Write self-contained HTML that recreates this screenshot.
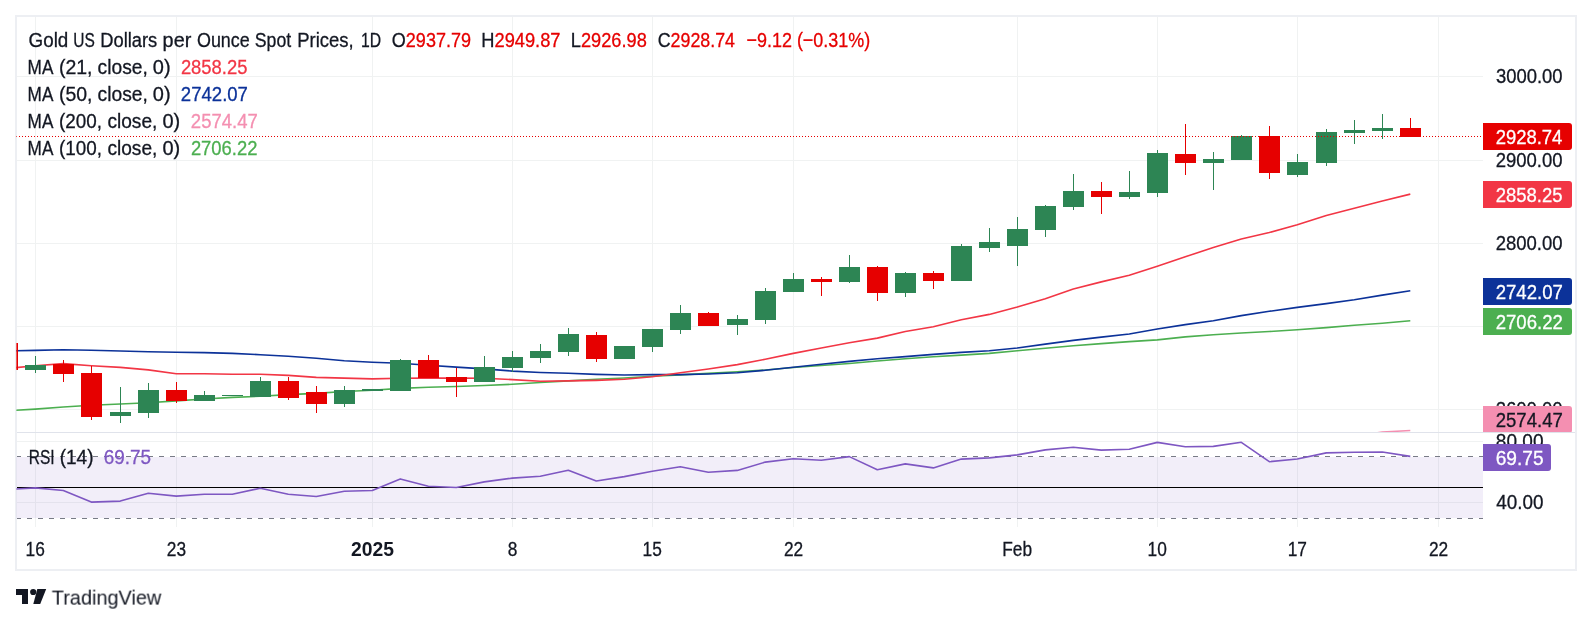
<!DOCTYPE html><html><head><meta charset="utf-8"><style>html,body{margin:0;padding:0;background:#fff}body{width:1592px;height:625px;overflow:hidden}svg{display:block;will-change:transform}text{font-family:"Liberation Sans", sans-serif}</style></head><body>
<svg width="1592" height="625" viewBox="0 0 1592 625">
<rect x="16" y="16" width="1560" height="554" fill="#fff" stroke="#edeff3" stroke-width="2"/>
<defs><clipPath id="mp"><rect x="16.4" y="17" width="1466.6" height="415"/></clipPath><clipPath id="rp"><rect x="16.4" y="433" width="1466.6" height="94"/></clipPath></defs>
<rect x="35" y="17" width="1" height="510" fill="#f0f2f2"/><rect x="176" y="17" width="1" height="510" fill="#f0f2f2"/><rect x="372" y="17" width="1" height="510" fill="#f0f2f2"/><rect x="512" y="17" width="1" height="510" fill="#f0f2f2"/><rect x="652" y="17" width="1" height="510" fill="#f0f2f2"/><rect x="793" y="17" width="1" height="510" fill="#f0f2f2"/><rect x="1017" y="17" width="1" height="510" fill="#f0f2f2"/><rect x="1157" y="17" width="1" height="510" fill="#f0f2f2"/><rect x="1297" y="17" width="1" height="510" fill="#f0f2f2"/><rect x="1438" y="17" width="1" height="510" fill="#f0f2f2"/><rect x="17" y="76" width="1466" height="1" fill="#f0f2f2"/><rect x="17" y="160" width="1466" height="1" fill="#f0f2f2"/><rect x="17" y="243" width="1466" height="1" fill="#f0f2f2"/><rect x="17" y="326" width="1466" height="1" fill="#f0f2f2"/><rect x="17" y="409" width="1466" height="1" fill="#f0f2f2"/><rect x="17" y="441" width="1466" height="1" fill="#f0f2f2"/><rect x="17" y="502" width="1466" height="1" fill="#f0f2f2"/>
<rect x="17" y="432" width="1558" height="1" fill="#e0e3eb"/>
<g clip-path="url(#rp)">
<rect x="16" y="457" width="1467" height="61" fill="rgba(126,87,194,0.1)"/>
<line x1="17" y1="456.5" x2="1483" y2="456.5" stroke="#787B86" stroke-width="1" stroke-dasharray="5 6" stroke-dashoffset="1"/>
<line x1="17" y1="518.5" x2="1483" y2="518.5" stroke="#787B86" stroke-width="1" stroke-dasharray="5 6" stroke-dashoffset="1"/>
<rect x="17" y="487" width="1466" height="1" fill="#000"/>
<polyline points="7.30,489.50 35.30,487.90 63.30,490.50 91.30,502.10 120.30,501.10 148.30,493.20 176.30,496.10 204.30,494.30 232.30,494.30 260.30,488.20 288.30,494.30 316.30,496.50 344.30,491.30 372.30,490.50 400.30,478.90 428.30,486.30 456.30,487.50 484.30,481.90 512.30,478.10 540.30,476.20 568.30,470.20 596.30,481.00 624.30,476.60 652.30,471.20 680.30,466.70 708.30,472.20 737.30,470.40 765.30,462.10 793.30,458.80 821.30,460.30 849.30,456.60 877.30,469.70 905.30,463.90 933.30,467.90 961.30,459.10 989.30,457.90 1017.30,454.90 1045.30,449.90 1073.30,447.30 1101.30,450.10 1129.30,449.30 1157.30,442.40 1185.30,446.70 1213.30,446.40 1241.30,442.30 1269.30,461.70 1297.30,459.00 1326.30,452.90 1354.30,452.30 1382.30,452.00 1410.30,456.40" fill="none" stroke="#7E57C2" stroke-width="1.6" stroke-linejoin="round" stroke-linecap="butt"/>
</g>
<g clip-path="url(#mp)">
<polyline points="1354.30,436.50 1382.30,432.00 1410.30,430.50" fill="none" stroke="#F48FB1" stroke-width="1.6" stroke-linejoin="round" stroke-linecap="butt"/>
<polyline points="7.30,410.80 35.30,409.10 63.30,407.00 91.30,405.30 120.30,404.00 148.30,402.80 176.30,400.90 204.30,399.00 232.30,397.40 260.30,396.30 288.30,394.60 316.30,393.40 344.30,391.50 372.30,390.30 400.30,388.40 428.30,387.30 456.30,386.50 484.30,385.50 512.30,384.30 540.30,382.50 568.30,380.90 596.30,379.20 624.30,378.00 652.30,376.20 680.30,374.90 708.30,373.40 737.30,371.80 765.30,370.00 793.30,367.50 821.30,365.50 849.30,363.50 877.30,361.00 905.30,358.80 933.30,356.80 961.30,355.10 989.30,353.40 1017.30,350.80 1045.30,348.30 1073.30,345.80 1101.30,343.60 1129.30,341.60 1157.30,339.90 1185.30,336.90 1213.30,334.80 1241.30,333.00 1269.30,331.50 1297.30,329.70 1326.30,327.60 1354.30,325.30 1382.30,323.30 1410.30,320.70" fill="none" stroke="#4CAF50" stroke-width="1.6" stroke-linejoin="round" stroke-linecap="butt"/>
<polyline points="7.30,350.90 35.30,350.40 63.30,349.80 91.30,350.30 120.30,351.00 148.30,351.70 176.30,352.30 204.30,352.60 232.30,353.40 260.30,354.70 288.30,356.30 316.30,358.20 344.30,360.70 372.30,362.20 400.30,363.30 428.30,365.20 456.30,367.10 484.30,368.90 512.30,371.10 540.30,372.50 568.30,373.30 596.30,374.40 624.30,375.00 652.30,374.60 680.30,374.60 708.30,374.00 737.30,372.80 765.30,370.30 793.30,367.30 821.30,364.20 849.30,361.40 877.30,358.80 905.30,356.60 933.30,354.40 961.30,352.40 989.30,350.80 1017.30,348.00 1045.30,344.10 1073.30,340.40 1101.30,337.10 1129.30,334.00 1157.30,329.00 1185.30,324.60 1213.30,320.70 1241.30,315.60 1269.30,311.30 1297.30,307.40 1326.30,303.60 1354.30,299.80 1382.30,295.10 1410.30,290.80" fill="none" stroke="#0C3299" stroke-width="1.6" stroke-linejoin="round" stroke-linecap="butt"/>
<polyline points="7.30,368.50 35.30,365.75 63.30,363.60 91.30,365.75 120.30,367.40 148.30,369.90 176.30,373.70 204.30,373.70 232.30,374.20 260.30,374.30 288.30,375.40 316.30,377.40 344.30,378.10 372.30,378.90 400.30,378.30 428.30,378.10 456.30,378.10 484.30,378.30 512.30,379.60 540.30,381.30 568.30,380.90 596.30,380.40 624.30,379.30 652.30,376.80 680.30,372.80 708.30,369.00 737.30,364.60 765.30,359.30 793.30,353.40 821.30,348.00 849.30,342.80 877.30,338.10 905.30,331.50 933.30,326.70 961.30,319.80 989.30,314.40 1017.30,307.10 1045.30,298.70 1073.30,289.00 1101.30,281.90 1129.30,275.20 1157.30,266.30 1185.30,256.80 1213.30,247.40 1241.30,239.00 1269.30,232.50 1297.30,224.80 1326.30,215.60 1354.30,208.30 1382.30,201.10 1410.30,194.10" fill="none" stroke="#F23645" stroke-width="1.6" stroke-linejoin="round" stroke-linecap="butt"/>
<rect x="7" y="343" width="1" height="27" fill="#e60000"/><rect x="-3" y="343" width="21" height="27" fill="#e60000"/><rect x="35" y="356" width="1" height="17" fill="#2d8554"/><rect x="25" y="365" width="21" height="5" fill="#2d8554"/><rect x="63" y="360" width="1" height="22" fill="#e60000"/><rect x="53" y="364" width="21" height="10" fill="#e60000"/><rect x="91" y="366" width="1" height="54" fill="#e60000"/><rect x="81" y="373" width="21" height="44" fill="#e60000"/><rect x="120" y="387" width="1" height="36" fill="#2d8554"/><rect x="110" y="412" width="21" height="4" fill="#2d8554"/><rect x="148" y="383" width="1" height="35" fill="#2d8554"/><rect x="138" y="390" width="21" height="23" fill="#2d8554"/><rect x="176" y="382" width="1" height="21" fill="#e60000"/><rect x="166" y="390" width="21" height="11" fill="#e60000"/><rect x="204" y="391" width="1" height="10" fill="#2d8554"/><rect x="194" y="395" width="21" height="6" fill="#2d8554"/><rect x="232" y="395" width="1" height="1" fill="#2d8554"/><rect x="222" y="395" width="21" height="1" fill="#2d8554"/><rect x="260" y="377" width="1" height="20" fill="#2d8554"/><rect x="250" y="381" width="21" height="16" fill="#2d8554"/><rect x="288" y="377" width="1" height="23" fill="#e60000"/><rect x="278" y="381" width="21" height="17" fill="#e60000"/><rect x="316" y="386" width="1" height="27" fill="#e60000"/><rect x="306" y="392" width="21" height="12" fill="#e60000"/><rect x="344" y="386" width="1" height="21" fill="#2d8554"/><rect x="334" y="390" width="21" height="14" fill="#2d8554"/><rect x="372" y="389" width="1" height="2" fill="#2d8554"/><rect x="362" y="389" width="21" height="2" fill="#2d8554"/><rect x="400" y="359" width="1" height="32" fill="#2d8554"/><rect x="390" y="360" width="21" height="31" fill="#2d8554"/><rect x="428" y="355" width="1" height="23" fill="#e60000"/><rect x="418" y="360" width="21" height="18" fill="#e60000"/><rect x="456" y="368" width="1" height="29" fill="#e60000"/><rect x="446" y="377" width="21" height="5" fill="#e60000"/><rect x="484" y="356" width="1" height="26" fill="#2d8554"/><rect x="474" y="367" width="21" height="15" fill="#2d8554"/><rect x="512" y="351" width="1" height="21" fill="#2d8554"/><rect x="502" y="357" width="21" height="11" fill="#2d8554"/><rect x="540" y="344" width="1" height="19" fill="#2d8554"/><rect x="530" y="351" width="21" height="7" fill="#2d8554"/><rect x="568" y="328" width="1" height="28" fill="#2d8554"/><rect x="558" y="334" width="21" height="18" fill="#2d8554"/><rect x="596" y="332" width="1" height="30" fill="#e60000"/><rect x="586" y="335" width="21" height="24" fill="#e60000"/><rect x="624" y="346" width="1" height="13" fill="#2d8554"/><rect x="614" y="346" width="21" height="13" fill="#2d8554"/><rect x="652" y="329" width="1" height="23" fill="#2d8554"/><rect x="642" y="329" width="21" height="18" fill="#2d8554"/><rect x="680" y="305" width="1" height="29" fill="#2d8554"/><rect x="670" y="313" width="21" height="17" fill="#2d8554"/><rect x="708" y="312" width="1" height="14" fill="#e60000"/><rect x="698" y="313" width="21" height="13" fill="#e60000"/><rect x="737" y="315" width="1" height="20" fill="#2d8554"/><rect x="727" y="319" width="21" height="6" fill="#2d8554"/><rect x="765" y="288" width="1" height="36" fill="#2d8554"/><rect x="755" y="291" width="21" height="29" fill="#2d8554"/><rect x="793" y="273" width="1" height="19" fill="#2d8554"/><rect x="783" y="279" width="21" height="13" fill="#2d8554"/><rect x="821" y="277" width="1" height="19" fill="#e60000"/><rect x="811" y="279" width="21" height="3" fill="#e60000"/><rect x="849" y="255" width="1" height="28" fill="#2d8554"/><rect x="839" y="267" width="21" height="15" fill="#2d8554"/><rect x="877" y="266" width="1" height="35" fill="#e60000"/><rect x="867" y="267" width="21" height="26" fill="#e60000"/><rect x="905" y="272" width="1" height="25" fill="#2d8554"/><rect x="895" y="273" width="21" height="20" fill="#2d8554"/><rect x="933" y="271" width="1" height="18" fill="#e60000"/><rect x="923" y="273" width="21" height="8" fill="#e60000"/><rect x="961" y="244" width="1" height="37" fill="#2d8554"/><rect x="951" y="246" width="21" height="35" fill="#2d8554"/><rect x="989" y="228" width="1" height="24" fill="#2d8554"/><rect x="979" y="242" width="21" height="6" fill="#2d8554"/><rect x="1017" y="217" width="1" height="49" fill="#2d8554"/><rect x="1007" y="229" width="21" height="17" fill="#2d8554"/><rect x="1045" y="205" width="1" height="32" fill="#2d8554"/><rect x="1035" y="206" width="21" height="24" fill="#2d8554"/><rect x="1073" y="174" width="1" height="36" fill="#2d8554"/><rect x="1063" y="191" width="21" height="16" fill="#2d8554"/><rect x="1101" y="182" width="1" height="32" fill="#e60000"/><rect x="1091" y="191" width="21" height="6" fill="#e60000"/><rect x="1129" y="171" width="1" height="28" fill="#2d8554"/><rect x="1119" y="192" width="21" height="5" fill="#2d8554"/><rect x="1157" y="150" width="1" height="47" fill="#2d8554"/><rect x="1147" y="153" width="21" height="40" fill="#2d8554"/><rect x="1185" y="124" width="1" height="51" fill="#e60000"/><rect x="1175" y="154" width="21" height="9" fill="#e60000"/><rect x="1213" y="152" width="1" height="38" fill="#2d8554"/><rect x="1203" y="159" width="21" height="4" fill="#2d8554"/><rect x="1241" y="135" width="1" height="25" fill="#2d8554"/><rect x="1231" y="136" width="21" height="24" fill="#2d8554"/><rect x="1269" y="126" width="1" height="53" fill="#e60000"/><rect x="1259" y="136" width="21" height="37" fill="#e60000"/><rect x="1297" y="154" width="1" height="23" fill="#2d8554"/><rect x="1287" y="162" width="21" height="13" fill="#2d8554"/><rect x="1326" y="129" width="1" height="37" fill="#2d8554"/><rect x="1316" y="132" width="21" height="31" fill="#2d8554"/><rect x="1354" y="120" width="1" height="24" fill="#2d8554"/><rect x="1344" y="130" width="21" height="3" fill="#2d8554"/><rect x="1382" y="114" width="1" height="25" fill="#2d8554"/><rect x="1372" y="128" width="21" height="3" fill="#2d8554"/><rect x="1410" y="118" width="1" height="19" fill="#e60000"/><rect x="1400" y="128" width="21" height="9" fill="#e60000"/>
<line x1="16" y1="136.5" x2="1483" y2="136.5" stroke="#e60000" stroke-width="1" stroke-dasharray="1 2"/>
</g>
<text transform="translate(28.56,47.00) scale(0.9244,1)" font-size="20.36" fill="#131722" stroke="#131722" stroke-width="0.3">Gold</text>
<text transform="translate(73.20,47.00) scale(0.7609,1)" font-size="20.36" fill="#131722" stroke="#131722" stroke-width="0.3">US</text>
<text transform="translate(100.18,47.00) scale(0.9018,1)" font-size="20.36" fill="#131722" stroke="#131722" stroke-width="0.3">Dollars</text>
<text transform="translate(162.61,47.00) scale(0.9749,1)" font-size="20.36" fill="#131722" stroke="#131722" stroke-width="0.3">per</text>
<text transform="translate(196.95,47.00) scale(0.8807,1)" font-size="20.36" fill="#131722" stroke="#131722" stroke-width="0.3">Ounce</text>
<text transform="translate(254.80,47.00) scale(0.8695,1)" font-size="20.36" fill="#131722" stroke="#131722" stroke-width="0.3">Spot</text>
<text transform="translate(297.17,47.00) scale(0.9080,1)" font-size="20.36" fill="#131722" stroke="#131722" stroke-width="0.3">Prices,</text>
<text transform="translate(360.92,47.00) scale(0.7738,1)" font-size="20.36" fill="#131722" stroke="#131722" stroke-width="0.3">1D</text>
<text transform="translate(391.84,47.00) scale(0.8851,1)" font-size="20.36" fill="#131722" stroke="#131722" stroke-width="0.3"><tspan fill="#131722" stroke="#131722">O</tspan><tspan fill="#e60000" stroke="#e60000">2937.79</tspan></text>
<text transform="translate(481.29,47.00) scale(0.8974,1)" font-size="20.36" fill="#131722" stroke="#131722" stroke-width="0.3"><tspan fill="#131722" stroke="#131722">H</tspan><tspan fill="#e60000" stroke="#e60000">2949.87</tspan></text>
<text transform="translate(570.79,47.00) scale(0.8959,1)" font-size="20.36" fill="#131722" stroke="#131722" stroke-width="0.3"><tspan fill="#131722" stroke="#131722">L</tspan><tspan fill="#e60000" stroke="#e60000">2926.98</tspan></text>
<text transform="translate(657.71,47.00) scale(0.8755,1)" font-size="20.36" fill="#131722" stroke="#131722" stroke-width="0.3"><tspan fill="#131722" stroke="#131722">C</tspan><tspan fill="#e60000" stroke="#e60000">2928.74</tspan></text>
<text transform="translate(746.50,47.00) scale(0.8815,1)" font-size="20.36" fill="#e60000" stroke="#e60000" stroke-width="0.3">−9.12 (−0.31%)</text>
<text transform="translate(27.58,74.00) scale(0.8433,1)" font-size="20.36" fill="#131722" stroke="#131722" stroke-width="0.3">MA</text>
<text transform="translate(58.98,74.00) scale(0.9571,1)" font-size="20.36" fill="#131722" stroke="#131722" stroke-width="0.3">(21,</text>
<text transform="translate(97.58,74.00) scale(0.9445,1)" font-size="20.36" fill="#131722" stroke="#131722" stroke-width="0.3">close,</text>
<text transform="translate(152.80,74.00) scale(0.9821,1)" font-size="20.36" fill="#131722" stroke="#131722" stroke-width="0.3">0)</text>
<text transform="translate(180.88,74.00) scale(0.9048,1)" font-size="20.36" fill="#F23645" stroke="#F23645" stroke-width="0.3">2858.25</text>
<text transform="translate(27.58,101.00) scale(0.8433,1)" font-size="20.36" fill="#131722" stroke="#131722" stroke-width="0.3">MA</text>
<text transform="translate(58.98,101.00) scale(0.9571,1)" font-size="20.36" fill="#131722" stroke="#131722" stroke-width="0.3">(50,</text>
<text transform="translate(97.58,101.00) scale(0.9445,1)" font-size="20.36" fill="#131722" stroke="#131722" stroke-width="0.3">close,</text>
<text transform="translate(152.80,101.00) scale(0.9821,1)" font-size="20.36" fill="#131722" stroke="#131722" stroke-width="0.3">0)</text>
<text transform="translate(180.87,101.00) scale(0.9115,1)" font-size="20.36" fill="#0C3299" stroke="#0C3299" stroke-width="0.3">2742.07</text>
<text transform="translate(27.58,128.00) scale(0.8433,1)" font-size="20.36" fill="#131722" stroke="#131722" stroke-width="0.3">MA</text>
<text transform="translate(59.02,128.00) scale(0.9279,1)" font-size="20.36" fill="#131722" stroke="#131722" stroke-width="0.3">(200,</text>
<text transform="translate(107.39,128.00) scale(0.9406,1)" font-size="20.36" fill="#131722" stroke="#131722" stroke-width="0.3">close,</text>
<text transform="translate(162.40,128.00) scale(0.9821,1)" font-size="20.36" fill="#131722" stroke="#131722" stroke-width="0.3">0)</text>
<text transform="translate(190.87,128.00) scale(0.9101,1)" font-size="20.36" fill="#F48FB1" stroke="#F48FB1" stroke-width="0.3">2574.47</text>
<text transform="translate(27.58,155.00) scale(0.8433,1)" font-size="20.36" fill="#131722" stroke="#131722" stroke-width="0.3">MA</text>
<text transform="translate(59.02,155.00) scale(0.9279,1)" font-size="20.36" fill="#131722" stroke="#131722" stroke-width="0.3">(100,</text>
<text transform="translate(107.39,155.00) scale(0.9406,1)" font-size="20.36" fill="#131722" stroke="#131722" stroke-width="0.3">close,</text>
<text transform="translate(162.40,155.00) scale(0.9821,1)" font-size="20.36" fill="#131722" stroke="#131722" stroke-width="0.3">0)</text>
<text transform="translate(190.88,155.00) scale(0.9046,1)" font-size="20.36" fill="#4CAF50" stroke="#4CAF50" stroke-width="0.3">2706.22</text>
<text transform="translate(28.82,463.80) scale(0.7601,1)" font-size="20.36" fill="#131722" stroke="#131722" stroke-width="0.3">RSI</text>
<text transform="translate(59.71,463.80) scale(0.9331,1)" font-size="20.36" fill="#131722" stroke="#131722" stroke-width="0.3">(14)</text>
<text transform="translate(103.65,463.80) scale(0.9302,1)" font-size="20.36" fill="#7E57C2" stroke="#7E57C2" stroke-width="0.3">69.75</text>
<text transform="translate(1495.91,82.80) scale(0.9196,1)" font-size="20.07" fill="#131722" stroke="#131722" stroke-width="0.3">3000.00</text>
<text transform="translate(1495.67,166.80) scale(0.9229,1)" font-size="20.07" fill="#131722" stroke="#131722" stroke-width="0.3">2900.00</text>
<text transform="translate(1495.67,249.80) scale(0.9229,1)" font-size="20.07" fill="#131722" stroke="#131722" stroke-width="0.3">2800.00</text>
<text transform="translate(1495.67,415.80) scale(0.9229,1)" font-size="20.07" fill="#131722" stroke="#131722" stroke-width="0.3">2600.00</text>
<text transform="translate(1495.79,447.80) scale(0.9501,1)" font-size="20.07" fill="#131722" stroke="#131722" stroke-width="0.3">80.00</text>
<text transform="translate(1496.17,508.80) scale(0.9423,1)" font-size="20.07" fill="#131722" stroke="#131722" stroke-width="0.3">40.00</text>
<path d="M1483 123 h86 a3 3 0 0 1 3 3 v21 a3 3 0 0 1 -3 3 h-86 z" fill="#e60000"/><text transform="translate(1495.68,144.00) scale(0.9203,1)" font-size="20.07" fill="#fff" stroke="#fff" stroke-width="0.3">2928.74</text>
<path d="M1483 181 h86 a3 3 0 0 1 3 3 v21 a3 3 0 0 1 -3 3 h-86 z" fill="#F23645"/><text transform="translate(1495.67,202.00) scale(0.9235,1)" font-size="20.07" fill="#fff" stroke="#fff" stroke-width="0.3">2858.25</text>
<path d="M1483 278 h86 a3 3 0 0 1 3 3 v21 a3 3 0 0 1 -3 3 h-86 z" fill="#0C3299"/><text transform="translate(1495.67,299.00) scale(0.9262,1)" font-size="20.07" fill="#fff" stroke="#fff" stroke-width="0.3">2742.07</text>
<path d="M1483 308 h86 a3 3 0 0 1 3 3 v21 a3 3 0 0 1 -3 3 h-86 z" fill="#4CAF50"/><text transform="translate(1495.67,329.00) scale(0.9262,1)" font-size="20.07" fill="#fff" stroke="#fff" stroke-width="0.3">2706.22</text>
<defs><clipPath id="pl"><rect x="1483" y="0" width="100" height="432"/></clipPath></defs>
<g clip-path="url(#pl)"><path d="M1483 406 h86 a3 3 0 0 1 3 3 v21 a3 3 0 0 1 -3 3 h-86 z" fill="#F48FB1"/><text transform="translate(1495.67,427.00) scale(0.9262,1)" font-size="20.07" fill="#131722" stroke="#131722" stroke-width="0.3">2574.47</text></g>
<path d="M1483 444 h65 a3 3 0 0 1 3 3 v21 a3 3 0 0 1 -3 3 h-65 z" fill="#7E57C2"/><text transform="translate(1495.64,465.00) scale(0.9540,1)" font-size="20.07" fill="#fff" stroke="#fff" stroke-width="0.3">69.75</text>
<text transform="translate(25.61,556.00) scale(0.8500,1)" font-size="20.36" fill="#131722" stroke="#131722" stroke-width="0.3">16</text>
<text transform="translate(166.83,556.00) scale(0.8500,1)" font-size="20.36" fill="#131722" stroke="#131722" stroke-width="0.3">23</text>
<text transform="translate(350.93,556.00) scale(0.9500,1)" font-size="20.36" fill="#131722" stroke="#131722" stroke-width="0" font-weight="bold">2025</text>
<text transform="translate(507.70,556.00) scale(0.8500,1)" font-size="20.36" fill="#131722" stroke="#131722" stroke-width="0.3">8</text>
<text transform="translate(642.59,556.00) scale(0.8500,1)" font-size="20.36" fill="#131722" stroke="#131722" stroke-width="0.3">15</text>
<text transform="translate(783.89,556.00) scale(0.8500,1)" font-size="20.36" fill="#131722" stroke="#131722" stroke-width="0.3">22</text>
<text transform="translate(1002.22,556.00) scale(0.8500,1)" font-size="20.36" fill="#131722" stroke="#131722" stroke-width="0.3">Feb</text>
<text transform="translate(1147.57,556.00) scale(0.8500,1)" font-size="20.36" fill="#131722" stroke="#131722" stroke-width="0.3">10</text>
<text transform="translate(1287.68,556.00) scale(0.8500,1)" font-size="20.36" fill="#131722" stroke="#131722" stroke-width="0.3">17</text>
<text transform="translate(1428.89,556.00) scale(0.8500,1)" font-size="20.36" fill="#131722" stroke="#131722" stroke-width="0.3">22</text>
<g fill="#131722"><path d="M16 589h12v15h-6v-9h-6z"/><circle cx="33.2" cy="592" r="3.1"/><path d="M37.3 589h8.9l-6 15h-6.9z"/></g>
<text transform="translate(51.75,604.60) scale(0.9986,1)" font-size="19.93" fill="#131722" stroke="#131722" stroke-width="0">TradingView</text>
</svg></body></html>
